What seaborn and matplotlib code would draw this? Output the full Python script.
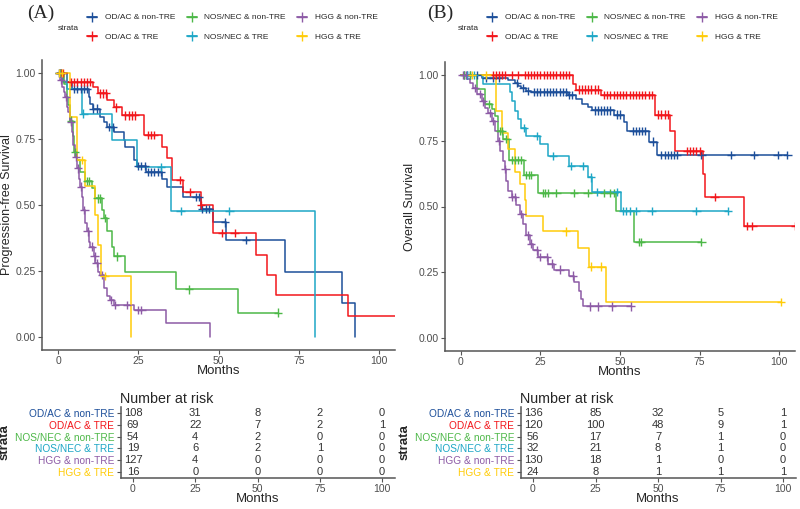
import numpy as np
import pandas as pd
import seaborn as sns
import matplotlib.pyplot as plt
from matplotlib.lines import Line2D

sns.set_style("ticks")
plt.rcParams['font.family'] = ['Liberation Sans', 'DejaVu Sans']

strata = ["OD/AC & non-TRE", "OD/AC & TRE", "NOS/NEC & non-TRE",
          "NOS/NEC & TRE", "HGG & non-TRE", "HGG & TRE"]
colors = ["#1D4F9A", "#F2161B", "#4DB848", "#1EA7C6", "#8D5BA6", "#FFCC0A"]
risk_times = [0, 25, 50, 75, 100]

# ---- (A) progression-free survival: (months, survival) step points ----
pfs_odac_non = [(0, 1.0), (1.5, 0.967), (4.3, 0.94), (9.5, 0.91), (10, 0.885), (11, 0.866),
                (13.2, 0.835), (14.2, 0.815), (15.3, 0.797), (17.3, 0.778), (20.5, 0.746),
                (21, 0.72), (23.6, 0.67), (24.7, 0.648), (27.3, 0.626), (32.5, 0.6),
                (34.1, 0.57), (38.8, 0.53), (44.5, 0.484), (48.2, 0.434), (52.4, 0.367),
                (70.6, 0.247), (88.4, 0.128), (92.6, 0.0)]
pfs_odac_tre = [(0, 1.0), (2.7, 0.967), (11, 0.948), (12.6, 0.923), (15.3, 0.898),
                (17.5, 0.87), (20, 0.84), (26.8, 0.765), (32.5, 0.72), (34, 0.677),
                (35.6, 0.595), (38.8, 0.55), (44.5, 0.5), (48.2, 0.393), (61.8, 0.31),
                (65.1, 0.235), (68, 0.159), (90.5, 0.08), (106, 0.08)]
pfs_nos_non = [(0, 1.0), (1.7, 0.96), (2.7, 0.91), (3.2, 0.88), (3.8, 0.82), (4.8, 0.76),
               (5, 0.70), (5.9, 0.67), (6.9, 0.626), (8.5, 0.59), (10.6, 0.563),
               (11.6, 0.525), (13.7, 0.48), (14.2, 0.45), (15.3, 0.4), (16.8, 0.342),
               (17.3, 0.305), (21, 0.244), (36.7, 0.18), (56, 0.092), (68.5, 0.092)]
pfs_nos_tre = [(0, 1.0), (2.7, 0.94), (7.4, 0.847), (16.8, 0.746), (24.7, 0.645),
               (35.1, 0.478), (80, 0.0)]
pfs_hgg_non = [(0, 1.0), (0.6, 0.973), (1.1, 0.948), (1.7, 0.93), (2.2, 0.91), (2.7, 0.872),
               (3.2, 0.853), (3.8, 0.816), (4.3, 0.778), (4.8, 0.727), (5.3, 0.683),
               (5.9, 0.639), (6.4, 0.6), (6.9, 0.57), (7.4, 0.53), (7.9, 0.48), (8.5, 0.43),
               (9, 0.4), (9.5, 0.36), (10, 0.342), (11.1, 0.305), (11.6, 0.28),
               (12.6, 0.247), (13.2, 0.235), (14.2, 0.184), (15.3, 0.153), (16.3, 0.14),
               (17.3, 0.121), (23.6, 0.102), (33.5, 0.052), (47.3, 0.0)]
pfs_hgg_tre = [(0, 1.0), (3.8, 0.835), (5.9, 0.67), (8.5, 0.572), (11.6, 0.462),
               (12.3, 0.348), (13.5, 0.23), (22.6, 0.0)]

pfs_cens = [
    [0.5, 1, 5, 6, 7, 8, 9, 11, 12, 16, 17, 25, 26, 27, 28, 29, 30, 31, 32, 43, 44, 45, 46, 47, 52, 58.5],
    [0.8, 1.5, 4, 5, 6, 7, 8, 9, 10, 13, 14, 15, 18, 21, 22, 23, 24, 28, 29, 30, 38, 41, 44.5, 51, 55],
    [0.7, 4, 5.3, 9, 9.5, 12.3, 13, 14.5, 18.4, 40.9, 68.5],
    [0.3, 7.9, 32, 38.2, 53.4],
    [0.2, 0.9, 2.5, 4, 5.6, 6.2, 7.2, 8.2, 9.2, 10.5, 11.4, 12, 13.6, 16.5, 17.7, 21.5, 25, 26],
    [0.4, 1.2, 7.5, 14.5],
]

# ---- (B) overall survival ----
os_odac_non = [(0, 1.0), (6.5, 0.99), (14.8, 0.98), (16.9, 0.97), (18, 0.958), (19, 0.952),
               (20.6, 0.94), (22.1, 0.937), (33.5, 0.924), (36.1, 0.908), (38.2, 0.89),
               (39.8, 0.88), (41.3, 0.866), (48.1, 0.85), (51.2, 0.82), (52.2, 0.788),
               (59, 0.747), (61.6, 0.696), (102.6, 0.696)]
os_odac_tre = [(0, 1.0), (35.1, 0.965), (36.1, 0.945), (43.9, 0.925), (61, 0.85),
               (65.7, 0.788), (67.3, 0.712), (76.1, 0.624), (76.6, 0.535), (89.1, 0.427),
               (106, 0.427)]
os_nos_non = [(0, 1.0), (5, 0.946), (7.6, 0.889), (9.7, 0.87), (10.7, 0.845), (11.7, 0.788),
              (13.3, 0.756), (15.1, 0.677), (19.8, 0.62), (24.2, 0.552), (48.6, 0.484),
              (54.3, 0.364), (75.6, 0.364)]
os_nos_tre = [(0, 1.0), (7, 0.967), (15.5, 0.935), (16.2, 0.9), (16.9, 0.864), (18, 0.832),
              (19, 0.8), (20.6, 0.769), (25, 0.737), (27.3, 0.693), (34.1, 0.655),
              (39.8, 0.611), (41.3, 0.554), (50.2, 0.484), (83.9, 0.484)]
os_hgg_non = [(0, 1.0), (1.9, 0.984), (2.9, 0.97), (3.9, 0.952), (5, 0.927), (6.5, 0.9),
              (7.6, 0.876), (8.6, 0.857), (9.7, 0.826), (10.7, 0.788), (11.7, 0.75),
              (12.3, 0.712), (13.3, 0.674), (13.8, 0.643), (14.3, 0.598), (14.8, 0.56),
              (15.9, 0.535), (17.4, 0.504), (18.5, 0.472), (19.5, 0.434), (20.6, 0.39),
              (21.6, 0.359), (22.6, 0.333), (24.2, 0.308), (27.3, 0.283), (29.4, 0.26),
              (34.1, 0.237), (35.6, 0.212), (37.2, 0.18), (37.7, 0.149), (38.5, 0.12),
              (53.3, 0.12)]
os_hgg_tre = [(0, 1.0), (11, 0.864), (12.8, 0.778), (14.8, 0.718), (16.9, 0.63),
              (18.5, 0.586), (20, 0.523), (20.6, 0.465), (25.8, 0.405), (36.7, 0.341),
              (40.3, 0.271), (45.5, 0.136), (100.5, 0.136)]

os_cens = [
    [1, 2, 3, 5, 8, 10, 12, 17.5, 19.5, 21, 23, 24, 25, 26, 27, 28, 29, 30, 31, 32, 33, 34, 35,
     42, 43, 44, 45, 46, 47, 49, 50, 54, 55, 56, 57, 58, 60.5, 63, 64, 65, 66, 67, 68,
     75.6, 84.9, 92.2, 99.5, 102.6],
    [10, 11, 12, 13, 14, 16, 18, 20, 21, 22, 23, 24, 25, 26, 27, 28, 29, 30, 31, 32, 33, 34,
     37, 38, 39, 40, 41, 42, 43, 45, 46, 47, 48, 49, 50, 51, 52, 53, 54, 55, 56, 57, 58, 59,
     60, 62, 63, 64, 65, 71, 72, 73, 74, 75, 79.7, 90, 91.6, 105],
    [1, 3, 8.8, 12.2, 12.8, 14.3, 16, 17, 18, 19, 20.5, 21.5, 22, 25.8, 26.5, 27.5, 30,
     35.6, 39.8, 45, 47, 48, 56, 56.7, 75.6],
    [2, 4, 19.8, 24, 29, 34.6, 38.3, 40.8, 42.9, 49, 51, 52, 53, 55, 59.9, 74, 83.9],
    [0.5, 1.5, 4.5, 6, 7, 9, 10.2, 12, 14, 16, 17, 19, 21, 22, 24, 25, 27, 28.5, 31,
     35.3, 40.6, 43, 47.5, 53.3],
    [3.5, 8, 33, 40.8, 43.9, 100.5],
]

# ---- number at risk ----
risk_pfs = [[108, 31, 8, 2, 0], [69, 22, 7, 2, 1], [54, 4, 2, 0, 0],
            [19, 6, 2, 1, 0], [127, 4, 0, 0, 0], [16, 0, 0, 0, 0]]
risk_os = [[136, 85, 32, 5, 1], [120, 100, 48, 9, 1], [56, 17, 7, 1, 0],
           [32, 21, 8, 1, 0], [130, 18, 1, 0, 0], [24, 8, 1, 1, 1]]

pal = dict(zip(strata, colors))


def build(curves, censors):
    rows, marks = [], []
    for name, steps, cens in zip(strata, curves, censors):
        t = np.array([p[0] for p in steps])
        s = np.array([p[1] for p in steps])
        for ti, si in steps:
            rows.append((name, ti, si))
        for c in cens:
            idx = np.searchsorted(t, c, side='right') - 1
            marks.append((name, c, s[idx]))
    cols = ['strata', 'time', 'surv']
    return pd.DataFrame(rows, columns=cols), pd.DataFrame(marks, columns=cols)


def style_axis(ax):
    sns.despine(ax=ax)
    for sp in ['left', 'bottom']:
        ax.spines[sp].set_color('#555555')
        ax.spines[sp].set_linewidth(1.1)
    ax.tick_params(labelsize=7.5, colors='#555555', labelcolor='#4D4D4D',
                   length=3, width=0.8, pad=1.5)


def km_panel(ax, curves, censors, ylabel):
    df, marks = build(curves, censors)
    sns.lineplot(data=df, x='time', y='surv', hue='strata', hue_order=strata, palette=pal,
                 estimator=None, sort=False, drawstyle='steps-post', linewidth=1.1,
                 legend=False, ax=ax)
    sns.scatterplot(data=marks, x='time', y='surv', hue='strata', hue_order=strata,
                    palette=pal, marker='+', s=36, linewidth=1.0, legend=False, ax=ax,
                    zorder=3)
    ax.set_xlim(-5, 105)
    ax.set_ylim(-0.05, 1.05)
    ax.set_xticks(risk_times)
    ax.set_yticks([0, 0.25, 0.5, 0.75, 1.0])
    ax.set_yticklabels(["0.00", "0.25", "0.50", "0.75", "1.00"])
    style_axis(ax)
    ax.set_xlabel("Months", fontsize=9.5, labelpad=-1)
    ax.set_ylabel(ylabel, fontsize=9, labelpad=2)


def risk_table(ax, counts):
    for i, row in enumerate(counts):
        for t, n in zip(risk_times, row):
            ax.text(t, i, str(n), ha='center', va='center', fontsize=8, color='#333333')
    ax.set_xlim(-5, 105)
    ax.set_ylim(5.5, -0.5)
    ax.set_yticks(range(len(strata)))
    ax.set_yticklabels(strata)
    ax.set_xticks(risk_times)
    style_axis(ax)
    ax.tick_params(axis='y', labelsize=7.3)
    for lab, c in zip(ax.get_yticklabels(), colors):
        lab.set_color(c)
    ax.set_xlabel("Months", fontsize=9.5, labelpad=-1)
    ax.set_ylabel("strata", fontsize=9.5, fontweight='bold', labelpad=3)
    ax.set_title("Number at risk", loc='left', fontsize=10.3, pad=3)


fig = plt.figure(figsize=(8, 5.09), dpi=100)
W, H = 800, 509


def px_axes(l, t, r, b):
    return fig.add_axes([l / W, 1 - b / H, (r - l) / W, (b - t) / H])


axA = px_axes(42, 60, 395, 350)
axB = px_axes(445, 62, 795, 351)
tA = px_axes(120.5, 407, 394.5, 478)
tB = px_axes(520.5, 407, 795.5, 478)

km_panel(axA, [pfs_odac_non, pfs_odac_tre, pfs_nos_non, pfs_nos_tre, pfs_hgg_non, pfs_hgg_tre],
         pfs_cens, "Progression-free Survival")
km_panel(axB, [os_odac_non, os_odac_tre, os_nos_non, os_nos_tre, os_hgg_non, os_hgg_tre],
         os_cens, "Overall Survival")
risk_table(tA, risk_pfs)
risk_table(tB, risk_os)

handles = [Line2D([], [], color=c, marker='+', markersize=7, linewidth=1.3) for c in colors]
for x0, tag in [(0, "(A)"), (400, "(B)")]:
    fig.text((x0 + 27) / W, 1 - 13 / H, tag, fontsize=14, family='Liberation Serif',
             va='center', ha='left')
    fig.text((x0 + 58) / W, 1 - 29 / H, "strata", fontsize=6, va='center', ha='left')
    fig.legend(handles, strata, ncol=3, loc='center left',
               bbox_to_anchor=((x0 + 87) / W, 1 - 27.5 / H), frameon=False,
               borderaxespad=0, borderpad=0,
               fontsize=6, handlelength=1.2, handletextpad=0.95, columnspacing=1.35,
               labelspacing=1.45)

fig.savefig("out.png", dpi=100)
